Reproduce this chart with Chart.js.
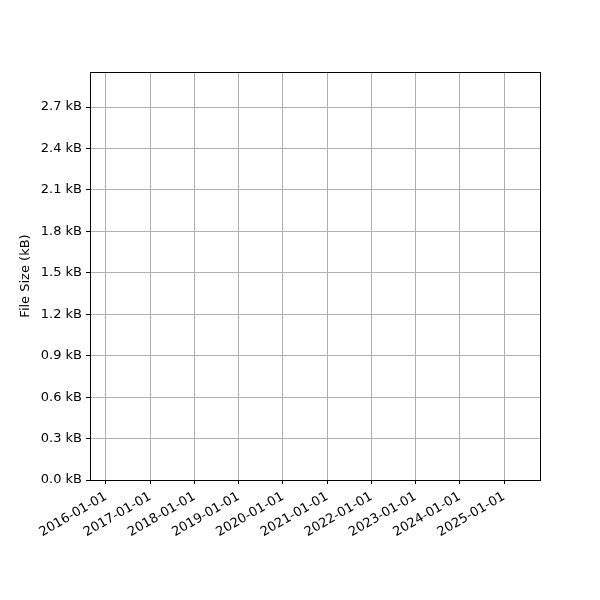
<!DOCTYPE html>
<html>
<head>
<meta charset="utf-8">
<script src="https://cdn.jsdelivr.net/npm/chart.js@4.4.1/dist/chart.umd.min.js"></script>
<style>
  body { margin: 0; background: #fff; }
  canvas { display: block; }
</style>
</head>
<body>
<canvas id="sizeChart" width="600" height="600"></canvas>
<script>
// Data (the reference plot shows no points)
const dates = [];
const sizes = [];

// Axis ticks and ranges
const xTickDates = [
    '2016-01-01', '2017-01-01', '2018-01-01', '2019-01-01', '2020-01-01',
    '2021-01-01', '2022-01-01', '2023-01-01', '2024-01-01', '2025-01-01'
];
const xRange = ['2015-08-22', '2025-10-25'];
const yTickValues = [0, 0.3, 0.6, 0.9, 1.2, 1.5, 1.8, 2.1, 2.4, 2.7];
const yRange = [0, 2.954];

Chart.defaults.font.family = 'DejaVu Sans';
Chart.defaults.font.size = 13;
Chart.defaults.color = '#000';

// matplotlib style frame round the plot area
const frame = {
    id: 'frame',
    afterDraw(chart) {
        const a = chart.chartArea;
        const ctx = chart.ctx;
        ctx.save();
        ctx.strokeStyle = '#000';
        ctx.lineWidth = 1;
        ctx.strokeRect(Math.round(a.left) + 0.5, Math.round(a.top) + 0.5,
            Math.round(a.right - a.left), Math.round(a.bottom - a.top));
        ctx.restore();
    }
};

const ctx = document.getElementById('sizeChart').getContext('2d');
new Chart(ctx, {
    type: 'line',
    data: {
        datasets: [{
            label: 'File Size',
            data: dates.map((d, i) => ({ x: Date.parse(d), y: sizes[i] })),
            borderColor: '#1f77b4',
            borderWidth: 1.5,
            pointRadius: 0
        }]
    },
    options: {
        responsive: false,
        animation: false,
        devicePixelRatio: 1,
        layout: { padding: { left: 18, top: 72, right: 60, bottom: 0 } },
        plugins: {
            legend: { display: false },
            tooltip: { enabled: false }
        },
        scales: {
            x: {
                type: 'linear',
                min: Date.parse(xRange[0]),
                max: Date.parse(xRange[1]),
                afterBuildTicks: scale => {
                    scale.ticks = xTickDates.map(d => ({ value: Date.parse(d) }));
                },
                afterFit: scale => { scale.height = 120; },
                ticks: {
                    autoSkip: false,
                    minRotation: 30,
                    maxRotation: 30,
                    padding: 5,
                    callback: value => new Date(value).toISOString().slice(0, 10)
                },
                grid: { color: '#b0b0b0', lineWidth: 1, tickColor: '#000', tickLength: 4 },
                border: { color: '#000', width: 1 }
            },
            y: {
                min: yRange[0],
                max: yRange[1],
                afterBuildTicks: scale => {
                    scale.ticks = yTickValues.map(v => ({ value: v }));
                },
                afterFit: scale => { scale.width = 72; },
                ticks: {
                    padding: 4,
                    callback: value => value.toFixed(1) + ' kB'
                },
                title: {
                    display: true,
                    text: 'File Size (kB)',
                    font: { size: 13 },
                    padding: 0
                },
                grid: { color: '#b0b0b0', lineWidth: 1, tickColor: '#000', tickLength: 4 },
                border: { color: '#000', width: 1 }
            }
        }
    },
    plugins: [frame]
});
</script>
</body>
</html>
